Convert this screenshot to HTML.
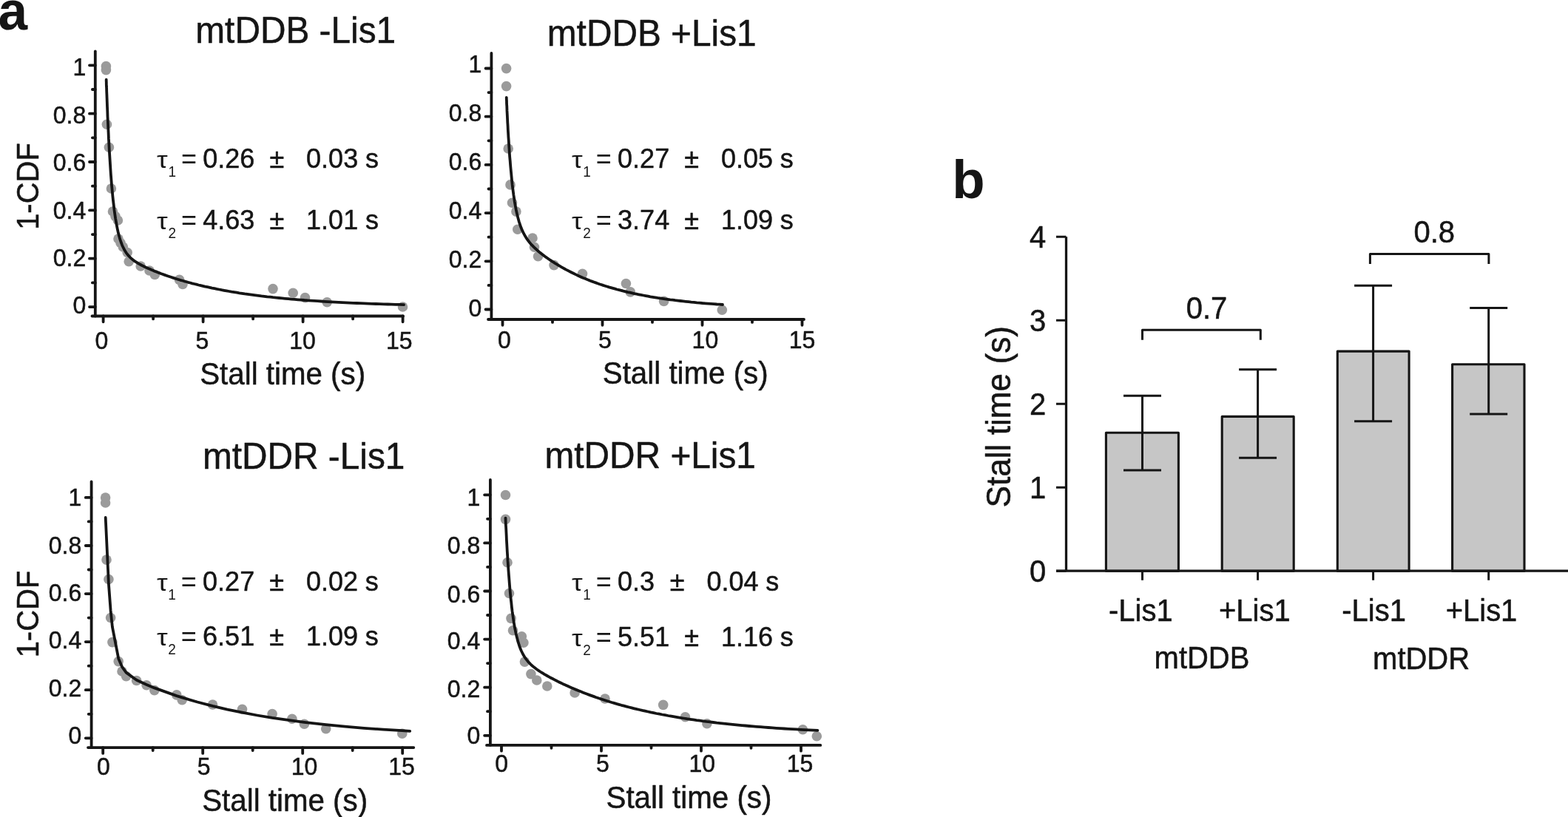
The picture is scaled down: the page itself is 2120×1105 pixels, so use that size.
<!DOCTYPE html>
<html lang="en">
<head>
<meta charset="utf-8">
<title>Stall time figure</title>
<style>
html,body{margin:0;padding:0;background:#fff;}
body{width:2120px;height:1105px;overflow:hidden;}
svg{display:block;}
text{white-space:pre;}
</style>
</head>
<body>
<svg width="2120" height="1105" viewBox="0 0 2120 1105" font-family='"Liberation Sans", Arial, Helvetica, sans-serif' fill="#151515" stroke="#151515" stroke-width="0.5" stroke-linejoin="round">
<rect width="2120" height="1105" fill="#fff" stroke="none"/>
<circle cx="143.4" cy="89.6" r="6.8" fill="#9b9b9b" stroke="none"/><circle cx="143.4" cy="94.6" r="6.8" fill="#9b9b9b" stroke="none"/><circle cx="144.4" cy="168.3" r="6.8" fill="#9b9b9b" stroke="none"/><circle cx="147.4" cy="199.2" r="6.8" fill="#9b9b9b" stroke="none"/><circle cx="150.4" cy="255.0" r="6.8" fill="#9b9b9b" stroke="none"/><circle cx="152.5" cy="286.0" r="6.8" fill="#9b9b9b" stroke="none"/><circle cx="156.0" cy="292.6" r="6.8" fill="#9b9b9b" stroke="none"/><circle cx="159.4" cy="298.0" r="6.8" fill="#9b9b9b" stroke="none"/><circle cx="160.0" cy="323.0" r="6.8" fill="#9b9b9b" stroke="none"/><circle cx="163.0" cy="328.5" r="6.8" fill="#9b9b9b" stroke="none"/><circle cx="166.4" cy="334.0" r="6.8" fill="#9b9b9b" stroke="none"/><circle cx="172.2" cy="341.5" r="6.8" fill="#9b9b9b" stroke="none"/><circle cx="174.2" cy="353.7" r="6.8" fill="#9b9b9b" stroke="none"/><circle cx="190.2" cy="360.0" r="6.8" fill="#9b9b9b" stroke="none"/><circle cx="202.0" cy="366.0" r="6.8" fill="#9b9b9b" stroke="none"/><circle cx="209.3" cy="371.5" r="6.8" fill="#9b9b9b" stroke="none"/><circle cx="242.5" cy="378.4" r="6.8" fill="#9b9b9b" stroke="none"/><circle cx="247.0" cy="384.5" r="6.8" fill="#9b9b9b" stroke="none"/><circle cx="369.0" cy="390.6" r="6.8" fill="#9b9b9b" stroke="none"/><circle cx="396.2" cy="396.3" r="6.8" fill="#9b9b9b" stroke="none"/><circle cx="412.5" cy="402.6" r="6.8" fill="#9b9b9b" stroke="none"/><circle cx="442.2" cy="408.7" r="6.8" fill="#9b9b9b" stroke="none"/><circle cx="544.5" cy="415.0" r="6.8" fill="#9b9b9b" stroke="none"/>
<path d="M128.8 69.5V427.5" stroke="#151515" stroke-width="3.8" fill="none" stroke-linecap="round"/>
<path d="M124.5 427.5H545.0" stroke="#151515" stroke-width="3.8" fill="none" stroke-linecap="round"/>
<path d="M128.8 415.1h-7.8M128.8 349.7h-7.8M128.8 284.4h-7.8M128.8 219.0h-7.8M128.8 153.7h-7.8M128.8 88.3h-7.8M128.8 382.4h-3.9M128.8 317.1h-3.9M128.8 251.7h-3.9M128.8 186.3h-3.9M128.8 121.0h-3.9M139.6 427.5v7.8M274.6 427.5v7.8M409.6 427.5v7.8M544.6 427.5v7.8M207.1 427.5v3.9M342.1 427.5v3.9M477.1 427.5v3.9" stroke="#151515" stroke-width="3.8" fill="none" stroke-linecap="round"/>
<text transform="translate(116.2 424.4) scale(1,1.04)" font-size="32" text-anchor="end">0</text>
<text transform="translate(116.2 360.0) scale(1,1.04)" font-size="32" text-anchor="end">0.2</text>
<text transform="translate(116.2 295.6) scale(1,1.04)" font-size="32" text-anchor="end">0.4</text>
<text transform="translate(116.2 231.2) scale(1,1.04)" font-size="32" text-anchor="end">0.6</text>
<text transform="translate(116.2 166.8) scale(1,1.04)" font-size="32" text-anchor="end">0.8</text>
<text transform="translate(116.2 102.4) scale(1,1.04)" font-size="32" text-anchor="end">1</text>
<text transform="translate(137.3 471.5) scale(1,1.04)" font-size="32" text-anchor="middle">0</text>
<text transform="translate(273.3 471.5) scale(1,1.04)" font-size="32" text-anchor="middle">5</text>
<text transform="translate(409 471.5) scale(1,1.04)" font-size="32" text-anchor="middle">10</text>
<text transform="translate(539.8 471.5) scale(1,1.04)" font-size="32" text-anchor="middle">15</text>
<path d="M143.7 107.7L143.7 107.8L143.7 108.5L143.7 109.6L143.8 111.2L143.8 113.4L143.9 116.2L144.1 119.5L144.2 123.5L144.4 127.9L144.6 132.9L144.8 138.4L145.0 144.3L145.3 150.7L145.5 157.5L145.9 164.6L146.2 171.9L146.6 179.6L146.9 187.4L147.4 195.3L147.8 203.3L148.3 211.3L148.8 219.3L149.3 227.3L149.8 235.1L150.4 242.8L151.0 250.3L151.7 257.6L152.3 264.6L153.0 271.3L153.8 277.8L154.5 283.9L155.3 289.7L156.1 295.2L157.0 300.4L157.9 305.3L158.8 309.8L159.7 314.0L160.7 318.0L161.7 321.6L162.7 324.9L163.8 328.0L164.9 330.9L166.0 333.5L167.2 335.9L168.3 338.1L169.6 340.2L170.8 342.1L172.1 343.8L173.4 345.4L174.8 346.9L176.2 348.3L177.6 349.6L179.0 350.8L180.5 352.0L182.0 353.1L183.6 354.2L185.2 355.2L186.8 356.2L188.5 357.1L190.1 358.0L191.9 359.0L193.6 359.8L195.4 360.7L197.2 361.6L199.1 362.5L201.0 363.3L202.9 364.1L204.9 365.0L206.9 365.8L208.9 366.7L211.0 367.5L213.1 368.3L215.2 369.1L217.4 370.0L219.6 370.8L221.9 371.6L224.1 372.4L226.5 373.2L228.8 374.0L231.2 374.8L233.6 375.6L236.1 376.4L238.6 377.2L241.1 378.0L243.7 378.8L246.3 379.5L249.0 380.3L251.6 381.0L254.3 381.8L257.1 382.5L259.9 383.3L262.7 384.0L265.6 384.7L268.5 385.5L271.4 386.2L274.4 386.9L277.4 387.6L280.5 388.2L283.6 388.9L286.7 389.6L289.9 390.2L293.1 390.9L296.3 391.5L299.6 392.2L302.9 392.8L306.3 393.4L309.7 394.0L313.1 394.6L316.6 395.1L320.1 395.7L323.6 396.3L327.2 396.8L330.8 397.4L334.5 397.9L338.2 398.4L341.9 398.9L345.7 399.4L349.5 399.9L353.4 400.4L357.3 400.8L361.2 401.3L365.2 401.7L369.2 402.2L373.3 402.6L377.4 403.0L381.5 403.4L385.7 403.8L389.9 404.2L394.1 404.6L398.4 404.9L402.8 405.3L407.1 405.6L411.5 406.0L416.0 406.3L420.5 406.6L425.0 406.9L429.6 407.2L434.2 407.5L438.9 407.8L443.5 408.1L448.3 408.4L453.1 408.6L457.9 408.9L462.7 409.1L467.6 409.3L472.5 409.6L477.5 409.8L482.5 410.0L487.6 410.2L492.7 410.4L497.8 410.6L503.0 410.8L508.2 411.0L513.5 411.2L518.8 411.3L524.2 411.5L529.5 411.6L535.0 411.8L540.4 411.9L546.0 412.1" stroke="#151515" stroke-width="3.8" fill="none" stroke-linecap="round" stroke-linejoin="round"/>
<text transform="translate(264.3 58.2) scale(1,1.04)" font-size="47.8">mtDDB -Lis1</text>
<text transform="translate(270.2 519.6) scale(1,1.04)" font-size="40.3">Stall time (s)</text>
<text transform="translate(51.6 252) rotate(-90) scale(1,1.04)" font-size="40" text-anchor="middle">1-CDF</text>
<text transform="translate(212.1 226.6) scale(1.03,0.88)" font-size="36" stroke-width="0">τ</text>
<text transform="translate(245.0 226.6) scale(1,1.04)" font-size="36" stroke-width="0">=</text>
<text transform="translate(274.3 226.6) scale(1,1.04)" font-size="36">0.26</text>
<text transform="translate(364.5 226.6) scale(1,1.04)" font-size="36">±</text>
<text transform="translate(414.1 226.6) scale(1,1.04)" font-size="36">0.03</text>
<text transform="translate(494.0 226.6) scale(1,1.04)" font-size="36">s</text>
<text transform="translate(227.5 238.6) scale(1,1.04)" font-size="19" stroke-width="0">1</text>
<text transform="translate(212.1 310) scale(1.03,0.88)" font-size="36" stroke-width="0">τ</text>
<text transform="translate(245.0 310) scale(1,1.04)" font-size="36" stroke-width="0">=</text>
<text transform="translate(274.3 310) scale(1,1.04)" font-size="36">4.63</text>
<text transform="translate(364.5 310) scale(1,1.04)" font-size="36">±</text>
<text transform="translate(414.1 310) scale(1,1.04)" font-size="36">1.01</text>
<text transform="translate(494.0 310) scale(1,1.04)" font-size="36">s</text>
<text transform="translate(227.5 322) scale(1,1.04)" font-size="19" stroke-width="0">2</text>
<circle cx="684.6" cy="92.6" r="6.8" fill="#9b9b9b" stroke="none"/><circle cx="684.6" cy="116.6" r="6.8" fill="#9b9b9b" stroke="none"/><circle cx="687.2" cy="201.0" r="6.8" fill="#9b9b9b" stroke="none"/><circle cx="690.0" cy="249.9" r="6.8" fill="#9b9b9b" stroke="none"/><circle cx="692.5" cy="274.2" r="6.8" fill="#9b9b9b" stroke="none"/><circle cx="697.9" cy="286.1" r="6.8" fill="#9b9b9b" stroke="none"/><circle cx="699.8" cy="310.2" r="6.8" fill="#9b9b9b" stroke="none"/><circle cx="720.0" cy="322.0" r="6.8" fill="#9b9b9b" stroke="none"/><circle cx="722.5" cy="334.2" r="6.8" fill="#9b9b9b" stroke="none"/><circle cx="727.5" cy="346.8" r="6.8" fill="#9b9b9b" stroke="none"/><circle cx="749.0" cy="358.6" r="6.8" fill="#9b9b9b" stroke="none"/><circle cx="787.5" cy="370.2" r="6.8" fill="#9b9b9b" stroke="none"/><circle cx="846.4" cy="383.5" r="6.8" fill="#9b9b9b" stroke="none"/><circle cx="852.3" cy="394.9" r="6.8" fill="#9b9b9b" stroke="none"/><circle cx="897.6" cy="407.4" r="6.8" fill="#9b9b9b" stroke="none"/><circle cx="976.3" cy="419.3" r="6.8" fill="#9b9b9b" stroke="none"/>
<path d="M664.4 72V432.0" stroke="#151515" stroke-width="3.8" fill="none" stroke-linecap="round"/>
<path d="M660 432.0H1087.0" stroke="#151515" stroke-width="3.8" fill="none" stroke-linecap="round"/>
<path d="M664.4 418.5h-7.8M664.4 353.3h-7.8M664.4 288.1h-7.8M664.4 222.9h-7.8M664.4 157.7h-7.8M664.4 92.5h-7.8M664.4 385.9h-3.9M664.4 320.7h-3.9M664.4 255.5h-3.9M664.4 190.3h-3.9M664.4 125.1h-3.9M679.5 432.0v7.8M814.5 432.0v7.8M949.5 432.0v7.8M1084.5 432.0v7.8M747.0 432.0v3.9M882.0 432.0v3.9M1017.0 432.0v3.9" stroke="#151515" stroke-width="3.8" fill="none" stroke-linecap="round"/>
<text transform="translate(651.2 427.7) scale(1,1.04)" font-size="32" text-anchor="end">0</text>
<text transform="translate(651.2 361.8) scale(1,1.04)" font-size="32" text-anchor="end">0.2</text>
<text transform="translate(651.2 295.8) scale(1,1.04)" font-size="32" text-anchor="end">0.4</text>
<text transform="translate(651.2 229.9) scale(1,1.04)" font-size="32" text-anchor="end">0.6</text>
<text transform="translate(651.2 163.9) scale(1,1.04)" font-size="32" text-anchor="end">0.8</text>
<text transform="translate(651.2 98.0) scale(1,1.04)" font-size="32" text-anchor="end">1</text>
<text transform="translate(682 470.7) scale(1,1.04)" font-size="32" text-anchor="middle">0</text>
<text transform="translate(818 470.7) scale(1,1.04)" font-size="32" text-anchor="middle">5</text>
<text transform="translate(953.4 470.7) scale(1,1.04)" font-size="32" text-anchor="middle">10</text>
<text transform="translate(1084.6 470.7) scale(1,1.04)" font-size="32" text-anchor="middle">15</text>
<path d="M684.7 131.9L684.7 132.0L684.8 132.3L684.8 133.0L684.8 133.9L684.9 135.2L685.0 136.8L685.0 138.8L685.1 141.1L685.3 143.7L685.4 146.6L685.5 149.9L685.7 153.4L685.9 157.3L686.1 161.4L686.3 165.8L686.6 170.4L686.8 175.2L687.1 180.1L687.4 185.3L687.8 190.5L688.1 195.9L688.5 201.3L688.8 206.8L689.2 212.3L689.7 217.7L690.1 223.2L690.6 228.6L691.1 234.0L691.6 239.2L692.1 244.4L692.6 249.4L693.2 254.3L693.8 259.0L694.4 263.6L695.1 268.0L695.7 272.2L696.4 276.3L697.1 280.2L697.8 283.9L698.6 287.5L699.4 290.9L700.2 294.1L701.0 297.1L701.8 300.0L702.7 302.7L703.6 305.3L704.5 307.8L705.4 310.1L706.4 312.3L707.4 314.4L708.4 316.3L709.4 318.2L710.5 320.0L711.5 321.7L712.6 323.4L713.8 325.0L714.9 326.5L716.1 328.0L717.3 329.4L718.5 330.8L719.8 332.1L721.0 333.4L722.3 334.7L723.7 336.0L725.0 337.2L726.4 338.5L727.8 339.7L729.2 340.9L730.7 342.1L732.2 343.2L733.7 344.4L735.2 345.6L736.7 346.7L738.3 347.9L739.9 349.0L741.6 350.2L743.2 351.3L744.9 352.4L746.6 353.6L748.4 354.7L750.1 355.8L751.9 356.9L753.7 358.0L755.6 359.1L757.4 360.2L759.3 361.3L761.2 362.4L763.2 363.5L765.2 364.6L767.2 365.6L769.2 366.7L771.3 367.8L773.3 368.8L775.4 369.8L777.6 370.9L779.7 371.9L781.9 372.9L784.2 373.9L786.4 374.9L788.7 375.9L791.0 376.8L793.3 377.8L795.7 378.7L798.0 379.7L800.5 380.6L802.9 381.5L805.4 382.4L807.8 383.3L810.4 384.2L812.9 385.0L815.5 385.9L818.1 386.7L820.7 387.5L823.4 388.4L826.1 389.1L828.8 389.9L831.6 390.7L834.3 391.5L837.1 392.2L840.0 392.9L842.8 393.7L845.7 394.4L848.6 395.1L851.6 395.7L854.6 396.4L857.6 397.1L860.6 397.7L863.6 398.3L866.7 398.9L869.9 399.5L873.0 400.1L876.2 400.7L879.4 401.3L882.6 401.8L885.9 402.3L889.2 402.9L892.5 403.4L895.8 403.9L899.2 404.4L902.6 404.8L906.1 405.3L909.5 405.7L913.0 406.2L916.6 406.6L920.1 407.0L923.7 407.4L927.3 407.8L931.0 408.2L934.6 408.6L938.3 408.9L942.1 409.3L945.8 409.6L949.6 410.0L953.5 410.3L957.3 410.6L961.2 410.9L965.1 411.2L969.1 411.5L973.0 411.7L977.0 412.0" stroke="#151515" stroke-width="3.8" fill="none" stroke-linecap="round" stroke-linejoin="round"/>
<text transform="translate(739.8 62) scale(1,1.04)" font-size="47.8">mtDDB +Lis1</text>
<text transform="translate(814.8 519) scale(1,1.04)" font-size="40.3">Stall time (s)</text>
<text transform="translate(772.9 227.3) scale(1.03,0.88)" font-size="36" stroke-width="0">τ</text>
<text transform="translate(805.8 227.3) scale(1,1.04)" font-size="36" stroke-width="0">=</text>
<text transform="translate(835.0999999999999 227.3) scale(1,1.04)" font-size="36">0.27</text>
<text transform="translate(925.3 227.3) scale(1,1.04)" font-size="36">±</text>
<text transform="translate(974.9 227.3) scale(1,1.04)" font-size="36">0.05</text>
<text transform="translate(1054.8 227.3) scale(1,1.04)" font-size="36">s</text>
<text transform="translate(788.3 239.3) scale(1,1.04)" font-size="19" stroke-width="0">1</text>
<text transform="translate(772.9 310.3) scale(1.03,0.88)" font-size="36" stroke-width="0">τ</text>
<text transform="translate(805.8 310.3) scale(1,1.04)" font-size="36" stroke-width="0">=</text>
<text transform="translate(835.0999999999999 310.3) scale(1,1.04)" font-size="36">3.74</text>
<text transform="translate(925.3 310.3) scale(1,1.04)" font-size="36">±</text>
<text transform="translate(974.9 310.3) scale(1,1.04)" font-size="36">1.09</text>
<text transform="translate(1054.8 310.3) scale(1,1.04)" font-size="36">s</text>
<text transform="translate(788.3 322.3) scale(1,1.04)" font-size="19" stroke-width="0">2</text>
<circle cx="142.6" cy="673.0" r="6.8" fill="#9b9b9b" stroke="none"/><circle cx="142.6" cy="680.0" r="6.8" fill="#9b9b9b" stroke="none"/><circle cx="144.0" cy="757.1" r="6.8" fill="#9b9b9b" stroke="none"/><circle cx="146.9" cy="783.5" r="6.8" fill="#9b9b9b" stroke="none"/><circle cx="149.6" cy="835.5" r="6.8" fill="#9b9b9b" stroke="none"/><circle cx="151.9" cy="868.6" r="6.8" fill="#9b9b9b" stroke="none"/><circle cx="160.2" cy="894.6" r="6.8" fill="#9b9b9b" stroke="none"/><circle cx="165.0" cy="908.0" r="6.8" fill="#9b9b9b" stroke="none"/><circle cx="170.6" cy="914.6" r="6.8" fill="#9b9b9b" stroke="none"/><circle cx="184.6" cy="920.5" r="6.8" fill="#9b9b9b" stroke="none"/><circle cx="198.1" cy="926.8" r="6.8" fill="#9b9b9b" stroke="none"/><circle cx="208.8" cy="933.6" r="6.8" fill="#9b9b9b" stroke="none"/><circle cx="238.8" cy="939.9" r="6.8" fill="#9b9b9b" stroke="none"/><circle cx="246.2" cy="946.8" r="6.8" fill="#9b9b9b" stroke="none"/><circle cx="287.5" cy="953.0" r="6.8" fill="#9b9b9b" stroke="none"/><circle cx="327.5" cy="959.2" r="6.8" fill="#9b9b9b" stroke="none"/><circle cx="368.1" cy="965.5" r="6.8" fill="#9b9b9b" stroke="none"/><circle cx="394.9" cy="972.3" r="6.8" fill="#9b9b9b" stroke="none"/><circle cx="411.4" cy="979.3" r="6.8" fill="#9b9b9b" stroke="none"/><circle cx="440.7" cy="985.8" r="6.8" fill="#9b9b9b" stroke="none"/><circle cx="543.8" cy="992.3" r="6.8" fill="#9b9b9b" stroke="none"/>
<path d="M123.6 651.5V1011.1" stroke="#151515" stroke-width="3.8" fill="none" stroke-linecap="round"/>
<path d="M119.0 1011.1H559.3" stroke="#151515" stroke-width="3.8" fill="none" stroke-linecap="round"/>
<path d="M123.6 998.3h-7.8M123.6 933.2h-7.8M123.6 868.1h-7.8M123.6 803.1h-7.8M123.6 738.0h-7.8M123.6 672.9h-7.8M123.6 965.8h-3.9M123.6 900.7h-3.9M123.6 835.6h-3.9M123.6 770.5h-3.9M123.6 705.4h-3.9M139.2 1011.1v7.8M274.2 1011.1v7.8M409.2 1011.1v7.8M544.2 1011.1v7.8M206.7 1011.1v3.9M341.7 1011.1v3.9M476.7 1011.1v3.9" stroke="#151515" stroke-width="3.8" fill="none" stroke-linecap="round"/>
<text transform="translate(110.2 1006.2) scale(1,1.04)" font-size="32" text-anchor="end">0</text>
<text transform="translate(110.2 941.8) scale(1,1.04)" font-size="32" text-anchor="end">0.2</text>
<text transform="translate(110.2 877.4) scale(1,1.04)" font-size="32" text-anchor="end">0.4</text>
<text transform="translate(110.2 813.0) scale(1,1.04)" font-size="32" text-anchor="end">0.6</text>
<text transform="translate(110.2 748.6) scale(1,1.04)" font-size="32" text-anchor="end">0.8</text>
<text transform="translate(110.2 684.2) scale(1,1.04)" font-size="32" text-anchor="end">1</text>
<text transform="translate(140 1047.5) scale(1,1.04)" font-size="32" text-anchor="middle">0</text>
<text transform="translate(275.6 1047.5) scale(1,1.04)" font-size="32" text-anchor="middle">5</text>
<text transform="translate(411.6 1047.5) scale(1,1.04)" font-size="32" text-anchor="middle">10</text>
<text transform="translate(543 1047.5) scale(1,1.04)" font-size="32" text-anchor="middle">15</text>
<path d="M142.7 700.0L146.9 789.5L149.6 825.7L151.9 847.9L160.2 890.7L165.0 901.8L170.6 909.6L184.6 919.8L198.1 926.0L208.8 930.4L238.8 941.1L246.2 943.4L266.9 949.5L287.5 954.9L307.5 959.6L327.5 963.7L347.8 967.5L368.1 970.9L394.9 974.7L411.4 976.9L440.7 980.2L466.5 982.6L492.2 984.8L518.0 986.6L543.8 988.2L554.2 988.8" stroke="#151515" stroke-width="3.8" fill="none" stroke-linecap="round" stroke-linejoin="round"/>
<text transform="translate(273.9 634.1) scale(1,1.04)" font-size="47.8">mtDDR -Lis1</text>
<text transform="translate(273.2 1096.5) scale(1,1.04)" font-size="40.3">Stall time (s)</text>
<text transform="translate(51.6 830.5) rotate(-90) scale(1,1.04)" font-size="40" text-anchor="middle">1-CDF</text>
<text transform="translate(211.9 799) scale(1.03,0.88)" font-size="36" stroke-width="0">τ</text>
<text transform="translate(244.8 799) scale(1,1.04)" font-size="36" stroke-width="0">=</text>
<text transform="translate(274.1 799) scale(1,1.04)" font-size="36">0.27</text>
<text transform="translate(364.3 799) scale(1,1.04)" font-size="36">±</text>
<text transform="translate(413.9 799) scale(1,1.04)" font-size="36">0.02</text>
<text transform="translate(493.8 799) scale(1,1.04)" font-size="36">s</text>
<text transform="translate(227.3 811) scale(1,1.04)" font-size="19" stroke-width="0">1</text>
<text transform="translate(211.9 872.7) scale(1.03,0.88)" font-size="36" stroke-width="0">τ</text>
<text transform="translate(244.8 872.7) scale(1,1.04)" font-size="36" stroke-width="0">=</text>
<text transform="translate(274.1 872.7) scale(1,1.04)" font-size="36">6.51</text>
<text transform="translate(364.3 872.7) scale(1,1.04)" font-size="36">±</text>
<text transform="translate(413.9 872.7) scale(1,1.04)" font-size="36">1.09</text>
<text transform="translate(493.8 872.7) scale(1,1.04)" font-size="36">s</text>
<text transform="translate(227.3 884.7) scale(1,1.04)" font-size="19" stroke-width="0">2</text>
<circle cx="683.5" cy="669.5" r="6.8" fill="#9b9b9b" stroke="none"/><circle cx="683.5" cy="702.4" r="6.8" fill="#9b9b9b" stroke="none"/><circle cx="686.0" cy="760.7" r="6.8" fill="#9b9b9b" stroke="none"/><circle cx="688.5" cy="802.5" r="6.8" fill="#9b9b9b" stroke="none"/><circle cx="691.0" cy="836.4" r="6.8" fill="#9b9b9b" stroke="none"/><circle cx="693.5" cy="852.8" r="6.8" fill="#9b9b9b" stroke="none"/><circle cx="705.4" cy="860.8" r="6.8" fill="#9b9b9b" stroke="none"/><circle cx="707.9" cy="869.2" r="6.8" fill="#9b9b9b" stroke="none"/><circle cx="709.4" cy="895.1" r="6.8" fill="#9b9b9b" stroke="none"/><circle cx="717.9" cy="911.6" r="6.8" fill="#9b9b9b" stroke="none"/><circle cx="725.8" cy="920.0" r="6.8" fill="#9b9b9b" stroke="none"/><circle cx="739.8" cy="928.0" r="6.8" fill="#9b9b9b" stroke="none"/><circle cx="777.1" cy="937.0" r="6.8" fill="#9b9b9b" stroke="none"/><circle cx="818.0" cy="945.0" r="6.8" fill="#9b9b9b" stroke="none"/><circle cx="896.7" cy="953.4" r="6.8" fill="#9b9b9b" stroke="none"/><circle cx="926.5" cy="969.8" r="6.8" fill="#9b9b9b" stroke="none"/><circle cx="955.9" cy="978.8" r="6.8" fill="#9b9b9b" stroke="none"/><circle cx="1085.4" cy="986.8" r="6.8" fill="#9b9b9b" stroke="none"/><circle cx="1104.3" cy="995.7" r="6.8" fill="#9b9b9b" stroke="none"/>
<path d="M662.9 649V1007.9" stroke="#151515" stroke-width="3.8" fill="none" stroke-linecap="round"/>
<path d="M658.0 1007.9H1109.3" stroke="#151515" stroke-width="3.8" fill="none" stroke-linecap="round"/>
<path d="M662.9 994.8h-7.8M662.9 929.7h-7.8M662.9 864.6h-7.8M662.9 799.5h-7.8M662.9 734.4h-7.8M662.9 669.3h-7.8M662.9 962.2h-3.9M662.9 897.1h-3.9M662.9 832.0h-3.9M662.9 766.9h-3.9M662.9 701.8h-3.9M678.0 1007.9v7.8M813.0 1007.9v7.8M948.0 1007.9v7.8M1083.0 1007.9v7.8M745.5 1007.9v3.9M880.5 1007.9v3.9M1015.5 1007.9v3.9" stroke="#151515" stroke-width="3.8" fill="none" stroke-linecap="round"/>
<text transform="translate(649.2 1005.5) scale(1,1.04)" font-size="32" text-anchor="end">0</text>
<text transform="translate(649.2 943.1) scale(1,1.04)" font-size="32" text-anchor="end">0.2</text>
<text transform="translate(649.2 877.5) scale(1,1.04)" font-size="32" text-anchor="end">0.4</text>
<text transform="translate(649.2 814.5) scale(1,1.04)" font-size="32" text-anchor="end">0.6</text>
<text transform="translate(649.2 748.7) scale(1,1.04)" font-size="32" text-anchor="end">0.8</text>
<text transform="translate(649.2 683.5) scale(1,1.04)" font-size="32" text-anchor="end">1</text>
<text transform="translate(678.2 1043.8) scale(1,1.04)" font-size="32" text-anchor="middle">0</text>
<text transform="translate(814.8 1043.8) scale(1,1.04)" font-size="32" text-anchor="middle">5</text>
<text transform="translate(949.2 1043.8) scale(1,1.04)" font-size="32" text-anchor="middle">10</text>
<text transform="translate(1081.6 1043.8) scale(1,1.04)" font-size="32" text-anchor="middle">15</text>
<path d="M683.5 700.6L683.5 700.7L683.5 701.2L683.6 702.1L683.6 703.4L683.7 705.2L683.8 707.4L683.9 710.1L684.1 713.2L684.3 716.8L684.5 720.8L684.7 725.2L684.9 730.0L685.2 735.1L685.5 740.5L685.8 746.2L686.2 752.1L686.5 758.2L687.0 764.5L687.4 770.9L687.9 777.3L688.4 783.8L688.9 790.3L689.4 796.7L690.0 803.0L690.6 809.2L691.3 815.3L691.9 821.2L692.6 826.9L693.4 832.4L694.1 837.6L694.9 842.7L695.7 847.4L696.6 852.0L697.5 856.3L698.4 860.3L699.4 864.1L700.3 867.7L701.4 871.0L702.4 874.1L703.5 877.0L704.6 879.7L705.8 882.2L706.9 884.5L708.2 886.7L709.4 888.7L710.7 890.7L712.0 892.4L713.4 894.1L714.7 895.7L716.2 897.2L717.6 898.6L719.1 900.0L720.6 901.3L722.2 902.6L723.8 903.8L725.4 905.0L727.1 906.2L728.8 907.4L730.5 908.5L732.3 909.6L734.1 910.7L735.9 911.8L737.8 912.9L739.7 914.0L741.7 915.1L743.6 916.2L745.7 917.3L747.7 918.3L749.8 919.4L752.0 920.5L754.1 921.6L756.3 922.7L758.6 923.8L760.9 924.9L763.2 925.9L765.5 927.0L767.9 928.1L770.4 929.2L772.8 930.3L775.3 931.3L777.9 932.4L780.5 933.5L783.1 934.6L785.7 935.6L788.4 936.7L791.2 937.8L793.9 938.8L796.8 939.9L799.6 940.9L802.5 941.9L805.4 943.0L808.4 944.0L811.4 945.0L814.4 946.0L817.5 947.0L820.6 948.0L823.8 949.0L827.0 950.0L830.2 950.9L833.5 951.9L836.8 952.8L840.2 953.8L843.6 954.7L847.0 955.6L850.5 956.5L854.0 957.4L857.6 958.3L861.2 959.2L864.8 960.0L868.5 960.9L872.2 961.7L876.0 962.5L879.8 963.4L883.7 964.2L887.5 965.0L891.5 965.7L895.4 966.5L899.4 967.2L903.5 968.0L907.6 968.7L911.7 969.4L915.9 970.1L920.1 970.8L924.3 971.5L928.6 972.2L932.9 972.8L937.3 973.4L941.7 974.1L946.2 974.7L950.7 975.3L955.2 975.9L959.8 976.4L964.5 977.0L969.1 977.6L973.8 978.1L978.6 978.6L983.4 979.1L988.2 979.6L993.1 980.1L998.0 980.6L1003.0 981.1L1008.0 981.5L1013.0 982.0L1018.1 982.4L1023.3 982.8L1028.4 983.2L1033.7 983.6L1038.9 984.0L1044.2 984.4L1049.6 984.8L1055.0 985.1L1060.4 985.5L1065.9 985.8L1071.4 986.1L1076.9 986.4L1082.6 986.8L1088.2 987.1L1093.9 987.3L1099.6 987.6L1105.4 987.9" stroke="#151515" stroke-width="3.8" fill="none" stroke-linecap="round" stroke-linejoin="round"/>
<text transform="translate(736.5 632.6) scale(1,1.04)" font-size="47.8">mtDDR +Lis1</text>
<text transform="translate(819.5 1092.9) scale(1,1.04)" font-size="40.3">Stall time (s)</text>
<text transform="translate(772.9 799) scale(1.03,0.88)" font-size="36" stroke-width="0">τ</text>
<text transform="translate(805.8 799) scale(1,1.04)" font-size="36" stroke-width="0">=</text>
<text transform="translate(835.0999999999999 799) scale(1,1.04)" font-size="36">0.3</text>
<text transform="translate(905.8 799) scale(1,1.04)" font-size="36">±</text>
<text transform="translate(955.4 799) scale(1,1.04)" font-size="36">0.04</text>
<text transform="translate(1035.3 799) scale(1,1.04)" font-size="36">s</text>
<text transform="translate(788.3 811) scale(1,1.04)" font-size="19" stroke-width="0">1</text>
<text transform="translate(772.9 873.7) scale(1.03,0.88)" font-size="36" stroke-width="0">τ</text>
<text transform="translate(805.8 873.7) scale(1,1.04)" font-size="36" stroke-width="0">=</text>
<text transform="translate(835.0999999999999 873.7) scale(1,1.04)" font-size="36">5.51</text>
<text transform="translate(925.3 873.7) scale(1,1.04)" font-size="36">±</text>
<text transform="translate(974.9 873.7) scale(1,1.04)" font-size="36">1.16</text>
<text transform="translate(1054.8 873.7) scale(1,1.04)" font-size="36">s</text>
<text transform="translate(788.3 885.7) scale(1,1.04)" font-size="19" stroke-width="0">2</text>
<text transform="translate(-2.6 39.6) scale(1.08,1.12)" font-size="66" font-weight="bold" stroke-width="0">a</text>
<text transform="translate(1287.2 267.6) scale(1.1,1.095)" font-size="66" font-weight="bold" stroke-width="0">b</text>
<rect x="1495.4" y="585.3" width="98.0" height="186.9000000000001" fill="#c6c6c6" stroke="#151515" stroke-width="3.1"/>
<rect x="1652.2" y="563.4" width="97.0" height="208.80000000000007" fill="#c6c6c6" stroke="#151515" stroke-width="3.1"/>
<rect x="1808.3" y="475.1" width="96.79999999999995" height="297.1" fill="#c6c6c6" stroke="#151515" stroke-width="3.1"/>
<rect x="1963.6" y="492.8" width="97.40000000000009" height="279.40000000000003" fill="#c6c6c6" stroke="#151515" stroke-width="3.1"/>
<path d="M1441.5 320.2V772.2M1428.0 772.2H2121" stroke="#151515" stroke-width="3.3" fill="none"/>
<path d="M1441.5 772.2h-13.5M1441.5 659.2h-13.5M1441.5 546.2h-13.5M1441.5 433.2h-13.5M1441.5 320.2h-13.5M1544.5 535.2V636.1M1519.0 535.2h51.0M1519.0 636.1h51.0M1544.5 772.2v12.5M1700.6 499.8V619.2M1675.1 499.8h51.0M1675.1 619.2h51.0M1700.6 772.2v12.5M1856.6 386.2V569.7M1831.1 386.2h51.0M1831.1 569.7h51.0M1856.6 772.2v12.5M2012.7 416.5V559.9M1987.2 416.5h51.0M1987.2 559.9h51.0M2012.7 772.2v12.5M1544.5 459.7V446.2H1704.3V459.7M1852.4 357.0V343.5H2012.9V357.0" stroke="#151515" stroke-width="3.0" fill="none"/>
<text transform="translate(1414.2 786.8) scale(1,1.04)" font-size="40" text-anchor="end">0</text>
<text transform="translate(1414.2 673.8) scale(1,1.04)" font-size="40" text-anchor="end">1</text>
<text transform="translate(1414.2 560.8) scale(1,1.04)" font-size="40" text-anchor="end">2</text>
<text transform="translate(1414.2 447.8) scale(1,1.04)" font-size="40" text-anchor="end">3</text>
<text transform="translate(1414.2 334.8) scale(1,1.04)" font-size="40" text-anchor="end">4</text>
<text transform="translate(1631.5 431) scale(1,1.04)" font-size="40" text-anchor="middle">0.7</text>
<text transform="translate(1939.2 327.8) scale(1,1.04)" font-size="40" text-anchor="middle">0.8</text>
<text transform="translate(1542.4 840.2) scale(1,1.04)" font-size="40" text-anchor="middle">-Lis1</text>
<text transform="translate(1696.3 840.2) scale(1,1.04)" font-size="40" text-anchor="middle">+Lis1</text>
<text transform="translate(1857.6 840.2) scale(1,1.04)" font-size="40" text-anchor="middle">-Lis1</text>
<text transform="translate(2003.0 840.2) scale(1,1.04)" font-size="40" text-anchor="middle">+Lis1</text>
<text transform="translate(1625 903.7) scale(1,1.04)" font-size="40" text-anchor="middle">mtDDB</text>
<text transform="translate(1921.6 905) scale(1,1.04)" font-size="40" text-anchor="middle">mtDDR</text>
<text transform="translate(1366 563.8) rotate(-90) scale(1,1.04)" font-size="44.2" text-anchor="middle">Stall time (s)</text>
</svg>
</body>
</html>
